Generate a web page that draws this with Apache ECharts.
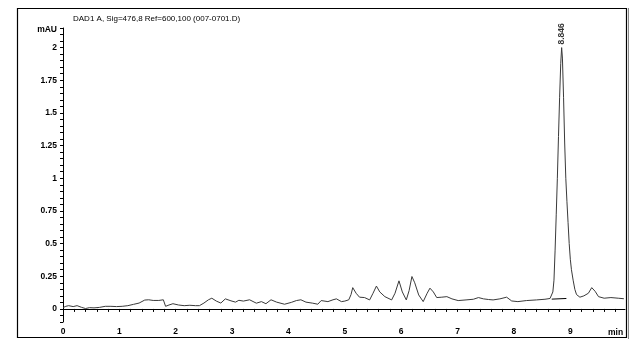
<!DOCTYPE html>
<html>
<head>
<meta charset="utf-8">
<script src="https://cdn.jsdelivr.net/npm/echarts@6/dist/echarts.min.js"></script>
<style>html,body{margin:0;padding:0;background:#fff;}#c{width:636px;height:339px;}</style>
</head>
<body>
<div id="c"></div>
<script>
// Retention time (min)
var times = [0.00,0.05,0.10,0.18,0.25,0.33,0.40,0.47,0.55,0.65,0.75,0.85,0.95,1.05,1.15,1.25,1.35,1.45,1.52,1.60,1.70,1.78,1.82,1.88,1.95,2.05,2.15,2.25,2.35,2.42,2.50,2.58,2.64,2.72,2.80,2.88,2.98,3.06,3.12,3.20,3.31,3.43,3.52,3.60,3.69,3.79,3.93,4.05,4.14,4.22,4.31,4.43,4.52,4.58,4.70,4.79,4.85,4.94,5.00,5.07,5.11,5.14,5.20,5.26,5.35,5.44,5.50,5.56,5.62,5.71,5.83,5.89,5.96,6.02,6.09,6.14,6.19,6.24,6.31,6.39,6.46,6.51,6.57,6.63,6.72,6.81,6.90,7.01,7.15,7.28,7.37,7.46,7.55,7.63,7.75,7.87,7.96,8.07,8.22,8.40,8.55,8.64,8.67,8.69,8.71,8.73,8.75,8.77,8.79,8.81,8.83,8.846,8.86,8.88,8.90,8.92,8.94,8.96,8.98,9.00,9.02,9.05,9.08,9.11,9.14,9.17,9.24,9.32,9.38,9.44,9.50,9.60,9.72,9.85,9.95];
// Absorbance (mAU)
var signal = [0.010,0.020,0.025,0.018,0.025,0.012,0.003,0.010,0.008,0.012,0.020,0.020,0.018,0.020,0.025,0.035,0.045,0.068,0.070,0.065,0.065,0.070,0.020,0.030,0.040,0.030,0.025,0.028,0.025,0.025,0.045,0.070,0.082,0.060,0.045,0.077,0.062,0.052,0.066,0.060,0.070,0.044,0.056,0.040,0.070,0.052,0.036,0.050,0.064,0.070,0.052,0.044,0.036,0.064,0.056,0.070,0.077,0.056,0.060,0.070,0.110,0.163,0.120,0.090,0.087,0.069,0.120,0.175,0.130,0.094,0.069,0.120,0.215,0.130,0.069,0.140,0.248,0.200,0.107,0.056,0.120,0.159,0.130,0.087,0.090,0.094,0.077,0.064,0.069,0.074,0.087,0.077,0.072,0.069,0.077,0.090,0.061,0.056,0.064,0.069,0.074,0.080,0.090,0.130,0.220,0.450,0.720,1.000,1.320,1.620,1.880,2.000,1.920,1.620,1.270,1.000,0.820,0.660,0.500,0.380,0.300,0.220,0.150,0.110,0.095,0.090,0.100,0.120,0.163,0.135,0.094,0.082,0.087,0.082,0.078];
// Integration baseline under the main peak
var baseTimes = [8.67, 8.93];
var baseValues = [0.075, 0.080];
// Peak annotation
var peakTime = [8.846];
var peakValue = [2.0];
var peakLabel = ['8.846'];
var titleText = 'DAD1 A, Sig=476,8 Ref=600,100 (007-0701.D)';
var yUnit = 'mAU';
var xUnit = 'min';

var font = '"Liberation Sans", Arial, sans-serif';
var traceData = times.map(function (t, i) { return [t, signal[i]]; });
var baseData = baseTimes.map(function (t, i) { return [t, baseValues[i]]; });
var peakData = peakTime.map(function (t, i) { return [t, peakValue[i]]; });

var chart = echarts.init(document.getElementById('c'), null, {renderer: 'canvas'});
chart.setOption({
  animation: false,
  backgroundColor: '#fff',
  title: {
    text: titleText, left: 68, top: 10,
    textStyle: {fontFamily: font, fontSize: 8, fontWeight: 'normal', color: '#000'}
  },
  grid: {left: 63, right: 11, top: 28, bottom: 17, containLabel: false},
  xAxis: {
    type: 'value', min: 0, max: 9.97, interval: 0.2,
    axisLine: {lineStyle: {color: '#000', width: 1}},
    axisTick: {show: true, inside: false, length: 3, lineStyle: {color: '#000'}},
    splitLine: {show: false},
    axisLabel: {
      interval: 0, margin: 5, fontFamily: font, fontSize: 8.5, fontWeight: 'bold', color: '#000',
      showMaxLabel: false,
      formatter: function (v) { return Math.abs(v - Math.round(v)) < 1e-6 ? String(Math.round(v)) : ''; }
    }
  },
  yAxis: {
    type: 'value', min: -0.1, max: 2.15, interval: 0.05,
    name: yUnit, nameLocation: 'end', nameGap: -2,
    nameTextStyle: {fontFamily: font, fontSize: 8.5, fontWeight: 'bold', color: '#000', align: 'right', verticalAlign: 'middle', padding: [0, 6, 0, 0]},
    axisLine: {show: true, lineStyle: {color: '#000', width: 1}},
    axisTick: {show: true, inside: false, length: 3, lineStyle: {color: '#000'}},
    splitLine: {show: false},
    axisLabel: {
      interval: 0, margin: 6, fontFamily: font, fontSize: 8.5, fontWeight: 'bold', color: '#000',
      formatter: function (v) {
        var r = Math.round(v * 4);
        return Math.abs(v * 4 - r) < 1e-6 ? String(r / 4) : '';
      }
    }
  },
  series: [
    {
      type: 'line', data: traceData, showSymbol: false, symbol: 'none',
      lineStyle: {color: '#3a3a3a', width: 1}, z: 3
    },
    {
      type: 'line', data: baseData, showSymbol: false, symbol: 'none',
      lineStyle: {color: '#000', width: 1}, z: 4
    },
    {
      type: 'scatter', data: peakData, symbolSize: 0,
      label: {
        show: true, position: 'top', distance: 3, rotate: 90,
        align: 'left', verticalAlign: 'middle',
        formatter: function (p) { return peakLabel[p.dataIndex]; },
        fontFamily: font, fontSize: 8.5, fontWeight: 'bold', color: '#000'
      }
    }
  ],
  graphic: [
    {type: 'rect', shape: {x: 17.5, y: 8.5, width: 609, height: 329}, style: {fill: 'none', stroke: '#000', lineWidth: 1.2}, silent: true},
    {type: 'line', shape: {x1: 628.5, y1: 8, x2: 628.5, y2: 339}, style: {stroke: '#888', lineWidth: 1}, silent: true},
    {type: 'text', left: 608, top: 328, style: {text: xUnit, font: 'bold 8.5px "Liberation Sans", Arial, sans-serif', fill: '#000'}, silent: true}
  ]
});
</script>
</body>
</html>
